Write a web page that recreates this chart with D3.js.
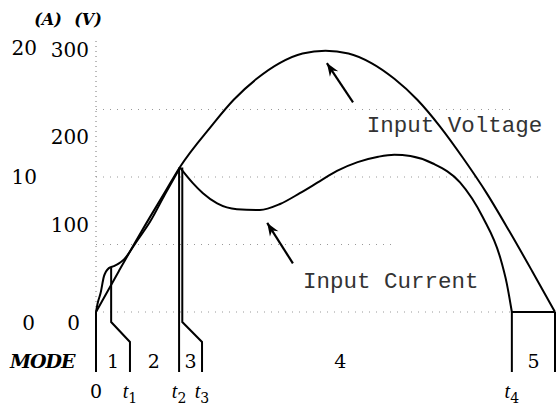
<!DOCTYPE html>
<html><head><meta charset="utf-8">
<script src="https://cdn.jsdelivr.net/npm/d3@7"></script>
<style>
html,body{margin:0;padding:0;background:#fff;}
svg{display:block;}
</style></head><body>
<svg id="chart" width="556" height="408"></svg>
<script>
// One half line cycle, time in ms
const voltTime   = [0, 0.5, 1, 1.5, 1.83, 2.5, 3, 3.5, 4, 4.5, 5, 5.5, 6, 6.5, 7, 7.5, 8, 8.5, 9, 9.5, 10];
const voltValues = [0, 47, 93, 137, 166, 212, 243, 267, 285, 296, 299, 296, 285, 267, 243, 212, 176, 137, 93, 47, 0];

const currTime   = [0, 0.04, 0.10, 0.17, 0.28, 0.39, 0.50, 0.61, 0.9, 1.18, 1.5, 1.83,
                    2.11, 2.33, 2.64, 3.07, 3.57, 4.01, 4.44, 4.88, 5.25, 5.7,
                    6.15, 6.5, 6.85, 7.34, 7.93, 8.43, 8.80, 8.95, 9.06, 10];
const currValues = [0, 0.7, 1.4, 2.6, 3.25, 3.4, 3.6, 3.9, 5.3, 6.7, 8.7, 10.7,
                    9.55, 8.8, 8.05, 7.62, 7.56, 8.0, 8.8, 9.7, 10.45, 11.1,
                    11.5, 11.65, 11.55, 11.0, 9.6, 7.0, 4.1, 2.1, 0, 0];
// current curve is drawn in pieces that meet at corners (t2 peak, t4 zero)
const currBreaks = [1.83, 9.06];

const voltTicks = [0, 100, 200, 300];
const currTicks = [0, 10, 20];
const currGrid    = [0, 5, 10, 15];
const currGridEnd = [9.06, 6.51, 9.67, 9.13];

// switching instants and the mode intervals between them
const eventTimes      = [0, 0.33, 1.81, 1.88, 9.06, 10];
const eventLabelTimes = [0, 0.74, 1.81, 2.31, 9.06, 10];
const eventCurrent    = [0, 3.3, 10.7, 10.7, 0, 0];
const eventNames      = ["0", "t1", "t2", "t3", "t4", ""];
const modeNames       = ["1", "2", "3", "4", "5"];
const modeLabelTimes  = [0.37, 1.26, 2.06, 5.32, 9.53];

// annotations: [tail, tip]
const voltArrow = [[5.6, 240], [5.03, 285]];
const currArrow = [[4.29, 3.6], [3.73, 6.6]];
const voltLabel = {text: "Input Voltage", t: 5.9, v: 206};
const currLabel = {text: "Input Current", t: 4.51, v: 1.8};

const svg = d3.select("#chart");
const x  = d3.scaleLinear().domain([0, 10]).range([96, 555]);
const yV = d3.scaleLinear().domain([0, 300]).range([312, 50]);
const yI = d3.scaleLinear().domain([0, 20]).range([312, 42]);

const serif = "'DejaVu Serif', 'Liberation Serif', serif";
const mono = "'Liberation Mono', 'DejaVu Sans Mono', monospace";

// dotted grid
svg.append("g").selectAll("line").data(currGrid).join("line")
  .attr("x1", x(0)).attr("x2", (d, i) => x(currGridEnd[i]))
  .attr("y1", d => yI(d)).attr("y2", d => yI(d))
  .attr("stroke", "#999").attr("stroke-width", 1).attr("stroke-dasharray", "1,6");

// voltage axis (dotted spine)
const gV = svg.append("g").attr("transform", `translate(${x(0)},0)`)
  .call(d3.axisLeft(yV).tickValues(voltTicks).tickSize(0).tickPadding(7).tickFormat(d3.format("d")));
gV.select(".domain").attr("d", `M0,${yV(0)}V40`).attr("stroke", "#777").attr("stroke-dasharray", "1,4");
gV.selectAll(".tick text").attr("font-family", serif).attr("font-size", 20).attr("fill", "#000");
gV.selectAll(".tick").filter(d => d === 0).select("text").attr("dy", "0.85em").attr("dx", -9);

// current axis (labels only)
const gI = svg.append("g").attr("transform", "translate(37,0)")
  .call(d3.axisLeft(yI).tickValues(currTicks).tickSize(0).tickPadding(0).tickFormat(d3.format("d")));
gI.select(".domain").remove();
gI.selectAll(".tick text").attr("font-family", serif).attr("font-size", 20).attr("fill", "#000");
gI.selectAll(".tick").filter(d => d === 0).select("text").attr("dy", "0.85em").attr("dx", -2);
gI.selectAll(".tick").filter(d => d === 20).select("text").attr("dy", "0.62em");

// unit captions
svg.append("text").attr("x", 48).attr("y", 25).attr("text-anchor", "middle")
  .attr("font-family", serif).attr("font-style", "italic").attr("font-weight", "bold")
  .attr("font-size", 16).text("(A)");
svg.append("text").attr("x", 88).attr("y", 25).attr("text-anchor", "middle")
  .attr("font-family", serif).attr("font-style", "italic").attr("font-weight", "bold")
  .attr("font-size", 16).text("(V)");

// input voltage
const voltPts = voltTime.map((t, i) => [t, voltValues[i]]);
svg.append("path")
  .attr("d", d3.line().x(d => x(d[0])).y(d => yV(d[1])).curve(d3.curveMonotoneX)(voltPts))
  .attr("fill", "none").attr("stroke", "#000").attr("stroke-width", 2);

// input current, piecewise
const currPts = currTime.map((t, i) => [t, currValues[i]]);
const cuts = [0, ...currBreaks, 10];
cuts.slice(0, -1).forEach((a, k) => {
  const b = cuts[k + 1];
  const seg = currPts.filter(p => p[0] >= a && p[0] <= b);
  const curve = seg.length > 2 ? d3.curveMonotoneX : d3.curveLinear;
  svg.append("path")
    .attr("d", d3.line().x(d => x(d[0])).y(d => yI(d[1])).curve(curve)(seg))
    .attr("fill", "none").attr("stroke", "#000").attr("stroke-width", 2);
});

// mode boundary markers
const yKinkTop = 322, yKinkBot = 342, yMarkEnd = 372;
svg.append("g").selectAll("path").data(eventTimes).join("path")
  .attr("d", (t, i) => {
    const top = yI(eventCurrent[i]);
    const tl = eventLabelTimes[i];
    if (tl === t) return `M${x(t)},${top}V${yMarkEnd}`;
    return `M${x(t)},${top}V${yKinkTop}L${x(tl)},${yKinkBot}V${yMarkEnd}`;
  })
  .attr("fill", "none").attr("stroke", "#000").attr("stroke-width", 2);

// MODE row
svg.append("text").attr("x", 10).attr("y", 368)
  .attr("font-family", serif).attr("font-style", "italic").attr("font-weight", "bold")
  .attr("font-size", 19).attr("letter-spacing", -1).text("MODE");
svg.append("g").selectAll("text").data(modeNames).join("text")
  .attr("x", (d, i) => x(modeLabelTimes[i])).attr("y", 368)
  .attr("text-anchor", "middle").attr("font-family", serif).attr("font-size", 19)
  .text(d => d);

// instant labels
const lab = svg.append("g").selectAll("text").data(eventNames.filter(n => n !== "")).join("text")
  .attr("x", (d, i) => x(eventLabelTimes[i])).attr("y", 398)
  .attr("text-anchor", "middle");
lab.each(function(d) {
  const el = d3.select(this);
  if (d.length === 1) {
    el.attr("font-family", serif).attr("font-size", 19).text(d);
  } else {
    el.append("tspan").attr("font-family", "'Liberation Serif', serif").attr("font-style", "italic")
      .attr("font-size", 20).text(d[0]);
    el.append("tspan").attr("font-family", serif).attr("font-size", 14).attr("dy", 5).text(d.slice(1));
  }
});

// arrows and captions
const defs = svg.append("defs");
defs.append("marker").attr("id", "head").attr("markerUnits", "userSpaceOnUse")
  .attr("viewBox", "-14 -7 16 14").attr("refX", 0).attr("refY", 0)
  .attr("markerWidth", 16).attr("markerHeight", 14).attr("orient", "auto")
  .append("path").attr("d", "M0,0L-13,-5L-9,0L-13,5Z").attr("fill", "#000");

svg.append("line")
  .attr("x1", x(voltArrow[0][0])).attr("y1", yV(voltArrow[0][1]))
  .attr("x2", x(voltArrow[1][0])).attr("y2", yV(voltArrow[1][1]))
  .attr("stroke", "#000").attr("stroke-width", 2.2).attr("marker-end", "url(#head)");
svg.append("line")
  .attr("x1", x(currArrow[0][0])).attr("y1", yI(currArrow[0][1]))
  .attr("x2", x(currArrow[1][0])).attr("y2", yI(currArrow[1][1]))
  .attr("stroke", "#000").attr("stroke-width", 2.2).attr("marker-end", "url(#head)");

svg.append("text").attr("x", x(voltLabel.t)).attr("y", yV(voltLabel.v))
  .attr("font-family", mono).attr("font-size", 22.5).attr("fill", "#333").text(voltLabel.text);
svg.append("text").attr("x", x(currLabel.t)).attr("y", yI(currLabel.v))
  .attr("font-family", mono).attr("font-size", 22.5).attr("fill", "#333").text(currLabel.text);
</script>
</body></html>
